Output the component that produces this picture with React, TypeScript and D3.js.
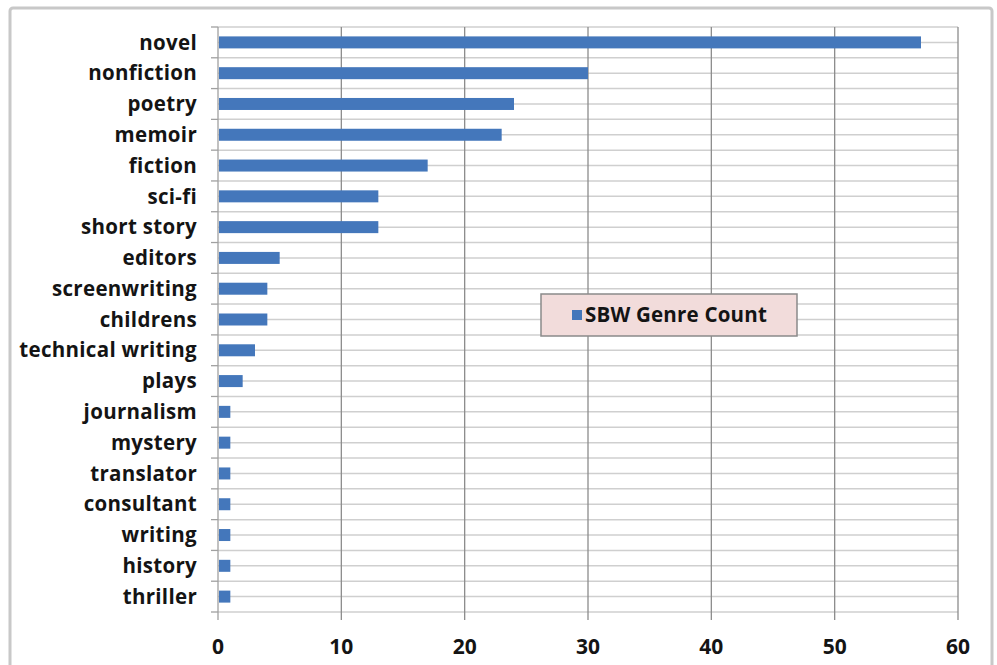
import * as d3 from "d3";
import { useEffect, useRef } from "react";

const genres = [
  "novel",
  "nonfiction",
  "poetry",
  "memoir",
  "fiction",
  "sci-fi",
  "short story",
  "editors",
  "screenwriting",
  "childrens",
  "technical writing",
  "plays",
  "journalism",
  "mystery",
  "translator",
  "consultant",
  "writing",
  "history",
  "thriller",
];
const counts = [57, 30, 24, 23, 17, 13, 13, 5, 4, 4, 3, 2, 1, 1, 1, 1, 1, 1, 1];
const xTicks = [0, 10, 20, 30, 40, 50, 60];
const seriesName = "SBW Genre Count";

export default function App() {
  const ref = useRef<SVGSVGElement | null>(null);

  useEffect(() => {
    if (!ref.current) return;
    const svg = d3.select(ref.current);
    svg.selectAll("*").remove();

    const height = 665;
    const left = 218;
    const right = 958;
    const top = 27;
    const bottom = 612;
    const font = "'Open Sans', Lato, sans-serif";

    const x = d3.scaleLinear().domain([0, 60]).range([left, right]);
    const y = d3.scaleBand<string>().domain(genres).range([top, bottom]).padding(0);
    const bw = y.bandwidth();
    const barH = 12;

    // outer chart frame
    svg
      .append("rect")
      .attr("x", 10)
      .attr("y", 8)
      .attr("width", 982)
      .attr("height", height + 20)
      .attr("rx", 3)
      .attr("fill", "#fff")
      .attr("stroke", "#c8c8c8")
      .attr("stroke-width", 3);

    // horizontal gridlines: band edges and band centres
    const hLines: number[] = [];
    genres.forEach((g) => {
      hLines.push(y(g)!);
      hLines.push(y(g)! + bw / 2);
    });
    hLines.push(bottom);
    svg
      .append("g")
      .selectAll("line")
      .data(hLines)
      .join("line")
      .attr("x1", left)
      .attr("x2", right)
      .attr("y1", (d) => d)
      .attr("y2", (d) => d)
      .attr("stroke", "#cfcfcf")
      .attr("stroke-width", 1.5);

    // vertical gridlines, extended down as ticks
    svg
      .append("g")
      .selectAll("line")
      .data(xTicks)
      .join("line")
      .attr("x1", (d) => x(d))
      .attr("x2", (d) => x(d))
      .attr("y1", top)
      .attr("y2", bottom + 8)
      .attr("stroke", (d) => (d === 0 ? "#a0a0a0" : "#8c8c8c"))
      .attr("stroke-width", 1.3);

    // y axis ticks at band boundaries
    svg
      .append("g")
      .selectAll("line")
      .data([...genres.map((g) => y(g)!), bottom])
      .join("line")
      .attr("x1", left - 7)
      .attr("x2", left)
      .attr("y1", (d) => d)
      .attr("y2", (d) => d)
      .attr("stroke", "#a0a0a0")
      .attr("stroke-width", 1.3);

    // bars
    svg
      .append("g")
      .selectAll("rect")
      .data(genres)
      .join("rect")
      .attr("x", x(0) + 1)
      .attr("y", (g) => y(g)! + bw / 2 - barH / 2)
      .attr("width", (g, i) => x(counts[i]) - x(0) - 1)
      .attr("height", barH)
      .attr("fill", "#4477bb");

    // category labels
    svg
      .append("g")
      .selectAll("text")
      .data(genres)
      .join("text")
      .attr("x", 197)
      .attr("y", (g) => y(g)! + bw / 2)
      .attr("dy", "0.35em")
      .attr("text-anchor", "end")
      .attr("font-family", font)
      .attr("font-weight", 700)
      .attr("font-size", 20.5)
      .attr("letter-spacing", 0.3)
      .attr("fill", "#141414")
      .text((g) => g);

    // x tick labels
    svg
      .append("g")
      .selectAll("text")
      .data(xTicks)
      .join("text")
      .attr("x", (d) => x(d))
      .attr("y", 647)
      .attr("dy", "0.35em")
      .attr("text-anchor", "middle")
      .attr("font-family", font)
      .attr("font-weight", 700)
      .attr("font-size", 21)
      .attr("fill", "#141414")
      .text((d) => d);

    // legend
    const lg = svg.append("g").attr("transform", "translate(541,294)");
    lg.append("rect")
      .attr("width", 256)
      .attr("height", 42)
      .attr("fill", "#f2dcdb")
      .attr("stroke", "#8a8a8a")
      .attr("stroke-width", 1.5);
    lg.append("rect")
      .attr("x", 31)
      .attr("y", 16)
      .attr("width", 10)
      .attr("height", 10)
      .attr("fill", "#4477bb");
    lg.append("text")
      .attr("x", 44)
      .attr("y", 21)
      .attr("dy", "0.35em")
      .attr("font-family", font)
      .attr("font-weight", 700)
      .attr("font-size", 20.5)
      .attr("letter-spacing", 0.2)
      .attr("fill", "#141414")
      .text(seriesName);
  }, []);

  return (
    <svg
      ref={ref}
      width={997}
      height={665}
      style={{ position: "absolute", left: 0, top: 0, background: "#fff" }}
    />
  );
}
